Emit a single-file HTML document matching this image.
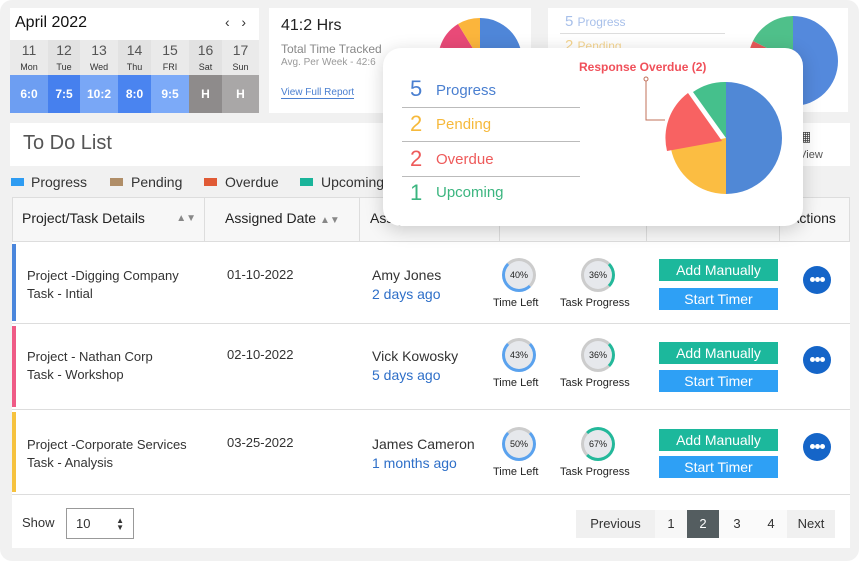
<!DOCTYPE html>
<html><head><meta charset="utf-8"><style>
*{margin:0;padding:0;box-sizing:border-box}
body{width:859px;height:561px;background:#fff;font-family:"Liberation Sans",sans-serif;position:relative;overflow:hidden;color:#333}
.a{position:absolute}
.frame{left:0;top:0;width:859px;height:561px;background:#f1f1f1;border-radius:12px}
.card{background:#fff}
.t{position:absolute;white-space:nowrap}
.cell{position:absolute;text-align:center;font-size:12px}
.hr{position:absolute;top:75px;height:38px;color:#fff;font-weight:bold;font-size:12px;text-align:center;line-height:38px}
.th{position:absolute;top:197px;height:45px;border-right:1px solid #ddd;font-size:14px;line-height:43px;padding-left:10px;color:#222}
.row{position:absolute;left:12px;width:838px;background:#fff;border-bottom:1px solid #ddd}
.bar{position:absolute;left:0;top:2px;bottom:2px;width:4px}
.ring{position:absolute;width:34px;height:34px;border-radius:50%;background:#e6e8ec;border:3px solid #ccc;font-size:9px;text-align:center;line-height:28px;color:#222}
.btn{position:absolute;left:659px;width:119px;height:22px;color:#fff;font-size:14px;text-align:center;line-height:22px}
.dots{position:absolute;left:803px;width:28px;height:28px;border-radius:50%;background:#1565c8}
.dots:before{content:"";position:absolute;left:7px;top:11px;width:5px;height:5px;border-radius:50%;background:#fff;box-shadow:5px 0 0 #fff,10px 0 0 #fff}
.lbl{position:absolute;font-size:11px;color:#222}
</style></head><body>
<div class="a frame"></div>
<div class="a card" style="left:10px;top:8px;width:249px;height:105px"></div>
<div class="t" style="left:15px;top:14px;font-size:16px;color:#111">April 2022</div>
<div class="t" style="left:225px;top:14px;font-size:14px;color:#333">‹ &nbsp; ›</div>
<div class="a" style="left:10px;top:40px;width:249px;height:35px;background:#eaeaea"></div>
<div class="a" style="left:48px;top:40px;width:32px;height:35px;background:#e2e2e2"></div>
<div class="a" style="left:118px;top:40px;width:33px;height:35px;background:#e2e2e2"></div>
<div class="a" style="left:189px;top:40px;width:33px;height:35px;background:#e2e2e2"></div>
<div class="cell" style="left:10px;top:43px;width:38px;line-height:15px"><span style="font-size:14px;color:#555">11</span><br><span style="font-size:9px">Mon</span></div>
<div class="cell" style="left:48px;top:43px;width:32px;line-height:15px"><span style="font-size:14px;color:#555">12</span><br><span style="font-size:9px">Tue</span></div>
<div class="cell" style="left:80px;top:43px;width:38px;line-height:15px"><span style="font-size:14px;color:#555">13</span><br><span style="font-size:9px">Wed</span></div>
<div class="cell" style="left:118px;top:43px;width:33px;line-height:15px"><span style="font-size:14px;color:#555">14</span><br><span style="font-size:9px">Thu</span></div>
<div class="cell" style="left:151px;top:43px;width:38px;line-height:15px"><span style="font-size:14px;color:#555">15</span><br><span style="font-size:9px">FRI</span></div>
<div class="cell" style="left:189px;top:43px;width:33px;line-height:15px"><span style="font-size:14px;color:#555">16</span><br><span style="font-size:9px">Sat</span></div>
<div class="cell" style="left:222px;top:43px;width:37px;line-height:15px"><span style="font-size:14px;color:#555">17</span><br><span style="font-size:9px">Sun</span></div>
<div class="hr" style="left:10px;width:38px;background:#6d9ef2">6:0</div>
<div class="hr" style="left:48px;width:32px;background:#4680ee">7:5</div>
<div class="hr" style="left:80px;width:38px;background:#79a7f6">10:2</div>
<div class="hr" style="left:118px;width:33px;background:#4a84f0">8:0</div>
<div class="hr" style="left:151px;width:38px;background:#7caaf8">9:5</div>
<div class="hr" style="left:189px;width:33px;background:#8e8b8b">H</div>
<div class="hr" style="left:222px;width:37px;background:#a9a7a7">H</div>
<div class="a card" style="left:269px;top:8px;width:262px;height:105px"></div>
<div class="t" style="left:281px;top:17px;font-size:16px;color:#222">41:2 Hrs</div>
<div class="t" style="left:281px;top:42px;font-size:12px;color:#888">Total Time Tracked</div>
<div class="t" style="left:281px;top:57px;font-size:10px;color:#999">Avg. Per Week - 42:6</div>
<div class="t" style="left:281px;top:87px;font-size:10px;color:#4a7fd0;border-bottom:1px solid #4a7fd0">View Full Report</div>
<svg class="a" style="left:430px;top:10px" width="100" height="100" viewBox="-50 -50 100 100">
<path d="M0 0 L0 -42 A42 42 0 0 1 0 42 Z" fill="#4f86d8"/>
<path d="M0 0 L0 42 A42 42 0 0 1 -40 -13 Z" fill="#e94a78"/>
<path d="M0 0 L-40 -13 A42 42 0 0 1 -22 -36 Z" fill="#e94a78"/>
<path d="M0 0 L-22 -36 A42 42 0 0 1 0 -42 Z" fill="#fbb53c"/></svg>
<div class="a card" style="left:548px;top:8px;width:300px;height:104px"></div>
<div class="t" style="left:565px;top:13px;font-size:15px;color:#a8c0ea">5 <span style="font-size:12px">Progress</span></div>
<div class="a" style="left:560px;top:33px;width:165px;height:1px;background:#ddd"></div>
<div class="t" style="left:565px;top:37px;font-size:15px;color:#f5d590">2 <span style="font-size:12px">Pending</span></div>
<svg class="a" style="left:745px;top:13px" width="96" height="96" viewBox="-48 -48 96 96">
<path d="M0 0 L0 -45 A45 45 0 0 1 0 45 Z" fill="#5489dc"/>
<path d="M0 0 L0 45 A45 45 0 0 1 -40 -20 Z" fill="#e85a5a"/>
<path d="M0 0 L-40 -20 A45 45 0 0 1 0 -45 Z" fill="#4fc08a"/></svg>
<div class="a card" style="left:10px;top:123px;width:840px;height:43px"></div>
<div class="t" style="left:23px;top:132px;font-size:20px;color:#555">To Do List</div>
<div class="t" style="left:798px;top:128px;font-size:14px;color:#444">▦</div>
<div class="t" style="left:790px;top:149px;font-size:11px;color:#555">n View</div>
<div class="a" style="left:11px;top:178px;width:13px;height:8px;background:#2e9cf2"></div>
<div class="t" style="left:31px;top:174px;font-size:14px;color:#333">Progress</div>
<div class="a" style="left:110px;top:178px;width:13px;height:8px;background:#b08e68"></div>
<div class="t" style="left:131px;top:174px;font-size:14px;color:#333">Pending</div>
<div class="a" style="left:204px;top:178px;width:13px;height:8px;background:#e05a35"></div>
<div class="t" style="left:225px;top:174px;font-size:14px;color:#333">Overdue</div>
<div class="a" style="left:300px;top:178px;width:13px;height:8px;background:#1ab49a"></div>
<div class="t" style="left:321px;top:174px;font-size:14px;color:#333">Upcoming</div>
<div class="a" style="left:12px;top:197px;width:838px;height:45px;background:#f7f7f7;border:1px solid #ddd"></div>
<div class="th" style="left:12px;width:193px">Project/Task Details <span style="float:right;margin-right:8px;color:#888;font-size:10px">▲▼</span></div>
<div class="th" style="left:205px;width:155px;padding-left:20px">Assigned Date <span style="color:#888;font-size:10px">▲▼</span></div>
<div class="th" style="left:360px;width:140px">Assigned</div>
<div class="th" style="left:500px;width:147px"></div>
<div class="th" style="left:647px;width:133px"></div>
<div class="th" style="left:780px;width:70px;border-right:none">Actions</div>
<div class="row" style="top:242px;height:82px"><div class="bar" style="background:#4a86dc"></div></div>
<div class="row" style="top:324px;height:86px"><div class="bar" style="background:#ef5b86"></div></div>
<div class="row" style="top:410px;height:85px"><div class="bar" style="background:#f6c23e"></div></div>

<div class="t" style="left:27px;top:267px;font-size:13px;line-height:18px;color:#333">Project -Digging Company<br>Task - Intial</div>
<div class="t" style="left:227px;top:267px;font-size:13px;color:#333">01-10-2022</div>
<div class="t" style="left:372px;top:266px;font-size:14px;line-height:19px;color:#333">Amy Jones<br><span style="color:#2e6fc8">2 days ago</span></div>
<div class="ring" style="left:502px;top:258px;border-color:#ccc #ccc #5aa2ee #5aa2ee">40%</div>
<div class="lbl" style="left:493px;top:297px">Time Left</div>
<div class="ring" style="left:581px;top:258px;border-right-color:#23b89a">36%</div>
<div class="lbl" style="left:560px;top:297px">Task Progress</div>
<div class="btn" style="top:259px;background:#1cb89c">Add Manually</div>
<div class="btn" style="top:288px;background:#2ea0f5">Start Timer</div>
<div class="dots" style="top:266px"></div>

<div class="t" style="left:27px;top:348px;font-size:13px;line-height:18px;color:#333">Project - Nathan Corp<br>Task - Workshop</div>
<div class="t" style="left:227px;top:347px;font-size:13px;color:#333">02-10-2022</div>
<div class="t" style="left:372px;top:347px;font-size:14px;line-height:19px;color:#333">Vick Kowosky<br><span style="color:#2e6fc8">5 days ago</span></div>
<div class="ring" style="left:502px;top:338px;border-color:#ccc #5aa2ee #5aa2ee #5aa2ee">43%</div>
<div class="lbl" style="left:493px;top:377px">Time Left</div>
<div class="ring" style="left:581px;top:338px;border-right-color:#23b89a">36%</div>
<div class="lbl" style="left:560px;top:377px">Task Progress</div>
<div class="btn" style="top:342px;background:#1cb89c">Add Manually</div>
<div class="btn" style="top:370px;background:#2ea0f5">Start Timer</div>
<div class="dots" style="top:346px"></div>

<div class="t" style="left:27px;top:436px;font-size:13px;line-height:18px;color:#333">Project -Corporate Services<br>Task - Analysis</div>
<div class="t" style="left:227px;top:435px;font-size:13px;color:#333">03-25-2022</div>
<div class="t" style="left:372px;top:435px;font-size:14px;line-height:19px;color:#333">James Cameron<br><span style="color:#2e6fc8">1 months ago</span></div>
<div class="ring" style="left:502px;top:427px;border-color:#ccc #5aa2ee #5aa2ee #5aa2ee">50%</div>
<div class="lbl" style="left:493px;top:466px">Time Left</div>
<div class="ring" style="left:581px;top:427px;border-color:#23b89a #23b89a #23b89a #ccc">67%</div>
<div class="lbl" style="left:560px;top:466px">Task Progress</div>
<div class="btn" style="top:429px;background:#1cb89c">Add Manually</div>
<div class="btn" style="top:456px;background:#2ea0f5">Start Timer</div>
<div class="dots" style="top:433px"></div>
<div class="a card" style="left:12px;top:495px;width:838px;height:53px"></div>
<div class="t" style="left:22px;top:515px;font-size:13px;color:#333">Show</div>
<div class="a" style="left:66px;top:508px;width:68px;height:31px;border:1px solid #999;background:#fff;font-size:13px;padding:7px 0 0 9px">10<span style="position:absolute;right:9px;top:8px;font-size:8px;line-height:7px">▲<br>▼</span></div>
<div class="a" style="left:576px;top:510px;width:79px;height:28px;background:#f0f0f0;font-size:13px;text-align:center;line-height:28px">Previous</div>
<div class="a" style="left:655px;top:510px;width:32px;height:28px;background:#f7f7f7;font-size:13px;text-align:center;line-height:28px">1</div>
<div class="a" style="left:687px;top:510px;width:32px;height:28px;background:#545d60;color:#fff;font-size:13px;text-align:center;line-height:28px">2</div>
<div class="a" style="left:719px;top:510px;width:36px;height:28px;background:#fafafa;font-size:13px;text-align:center;line-height:28px">3</div>
<div class="a" style="left:755px;top:510px;width:32px;height:28px;background:#fafafa;font-size:13px;text-align:center;line-height:28px">4</div>
<div class="a" style="left:787px;top:510px;width:48px;height:28px;background:#f0f0f0;font-size:13px;text-align:center;line-height:28px">Next</div>
<div class="a" style="left:383px;top:48px;width:420px;height:178px;background:#fff;border-radius:18px;box-shadow:0 4px 18px rgba(0,0,0,0.18)"></div>
<div class="t" style="left:410px;top:76px;font-size:22px;color:#4a7fd0">5</div>
<div class="t" style="left:436px;top:82px;font-size:15px;color:#4a7fd0">Progress</div>
<div class="a" style="left:402px;top:107px;width:178px;height:1px;background:#bbb"></div>
<div class="t" style="left:410px;top:111px;font-size:22px;color:#f6b93b">2</div>
<div class="t" style="left:436px;top:116px;font-size:15px;color:#f6b93b">Pending</div>
<div class="a" style="left:402px;top:141px;width:178px;height:1px;background:#bbb"></div>
<div class="t" style="left:410px;top:146px;font-size:22px;color:#ee5a5a">2</div>
<div class="t" style="left:436px;top:151px;font-size:15px;color:#ee5a5a">Overdue</div>
<div class="a" style="left:402px;top:176px;width:178px;height:1px;background:#bbb"></div>
<div class="t" style="left:410px;top:180px;font-size:22px;color:#3bb57f">1</div>
<div class="t" style="left:436px;top:184px;font-size:15px;color:#3bb57f">Upcoming</div>
<div class="t" style="left:579px;top:60px;font-size:12px;font-weight:bold;color:#f0505a">Response Overdue (2)</div>
<svg class="a" style="left:640px;top:70px" width="150" height="130" viewBox="640 70 150 130">
<circle cx="646" cy="79" r="2" fill="none" stroke="#c0705a"/>
<polyline points="646,81 646,120 665,120" fill="none" stroke="#c0705a"/>
<path d="M726 138 L726 82 A56 56 0 0 1 726 194 Z" fill="#5088d6"/>
<path d="M726 138 L726 194 A56 56 0 0 1 671 149 Z" fill="#fbbd42"/>
<path d="M722 141 L667 151 A56 56 0 0 1 688 93 Z" fill="#f86262"/>
<path d="M726 138 L693 92 A56 56 0 0 1 726 82 Z" fill="#45c08c"/>
</svg>
</body></html>
